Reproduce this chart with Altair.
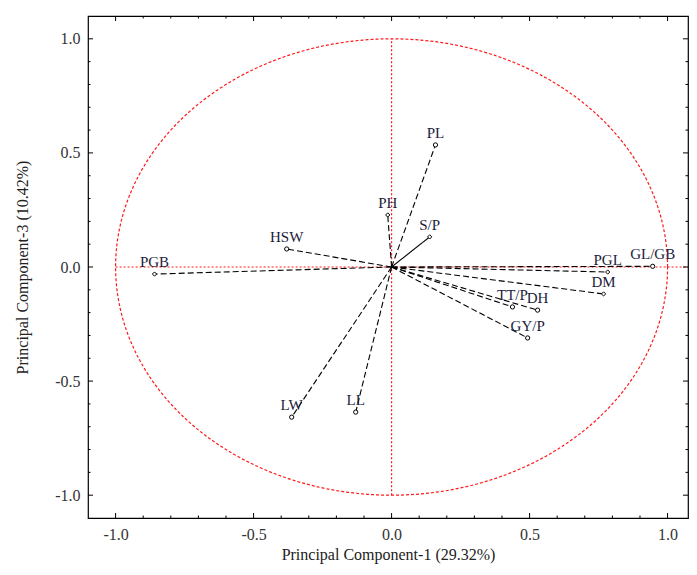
import altair as alt
import numpy as np
import pandas as pd

# ---- data ----
variables = ["PL", "PH", "S/P", "HSW", "PGB", "PGL", "GL/GB", "DM", "TT/P", "DH", "GY/P", "LW", "LL"]
pc1 = [0.159, -0.014, 0.138, -0.380, -0.859, 0.783, 0.946, 0.768, 0.438, 0.529, 0.493, -0.362, -0.130]
pc3 = [0.535, 0.228, 0.132, 0.079, -0.031, -0.022, 0.003, -0.118, -0.175, -0.189, -0.311, -0.658, -0.636]

major_ticks = [-1.0, -0.5, 0.0, 0.5, 1.0]
minor_ticks = [-0.9, -0.8, -0.7, -0.6, -0.4, -0.3, -0.2, -0.1, 0.1, 0.2, 0.3, 0.4, 0.6, 0.7, 0.8, 0.9]

x_title = "Principal Component-1 (29.32%)"
y_title = "Principal Component-3 (10.42%)"

# ---- style ----
W, H = 600, 502
FONT = "Liberation Serif"
RED = "#ff1a1a"
diamond_vars = ["PGB", "PH", "S/P", "PGL", "DM"]
solid_vars = ["S/P"]

df = pd.DataFrame({"var": variables, "x": pc1, "y": pc3})
df["x0"] = 0.0
df["y0"] = 0.0
df["shape"] = ["diamond" if v in diamond_vars else "circle" for v in variables]

xs = alt.Scale(domain=[-1.1, 1.074], nice=False, zero=False)
ys = alt.Scale(domain=[-1.1, 1.1], nice=False, zero=False)

label_expr = "replace(format(datum.value, '.1f'), '\u2212', '-')"

x_axis = alt.Axis(values=major_ticks, labelExpr=label_expr, title=x_title, grid=False,
                  domain=False, ticks=False, labelPadding=8, titlePadding=4,
                  labelFont=FONT, labelFontSize=16, labelColor="#333333",
                  titleFont=FONT, titleFontSize=16, titleFontWeight="normal", titleColor="#222222")
y_axis = alt.Axis(values=major_ticks, labelExpr=label_expr, title=y_title, grid=False,
                  domain=False, ticks=False, labelPadding=8, titlePadding=24,
                  labelFont=FONT, labelFontSize=16, labelColor="#333333",
                  titleFont=FONT, titleFontSize=16, titleFontWeight="normal", titleColor="#222222")

# unit circle (reference shape)
theta = np.linspace(0, 2 * np.pi, 361)
circle = pd.DataFrame({"x": np.cos(theta), "y": np.sin(theta), "o": np.arange(361)})

circle_layer = alt.Chart(circle).mark_line(color=RED, strokeWidth=1.2, strokeDash=[3, 2]).encode(
    x=alt.X("x:Q", scale=xs, axis=x_axis),
    y=alt.Y("y:Q", scale=ys, axis=y_axis),
    order="o:Q",
)

cross = pd.DataFrame({"x": [0.0, -1.0], "y": [-1.0, 0.0], "x2": [0.0, 1.074], "y2": [1.0, 0.0]})
cross_layer = alt.Chart(cross).mark_rule(color=RED, strokeWidth=1.2, strokeDash=[2, 2]).encode(
    x=alt.X("x:Q", scale=xs), y=alt.Y("y:Q", scale=ys), x2="x2:Q", y2="y2:Q"
)

vec_layer = alt.Chart(df).mark_rule(color="black", strokeWidth=1.1).encode(
    x=alt.X("x0:Q", scale=xs), y=alt.Y("y0:Q", scale=ys), x2="x:Q", y2="y:Q",
    strokeDash=alt.condition(alt.FieldOneOfPredicate(field="var", oneOf=solid_vars),
                             alt.value([1, 0]), alt.value([6, 3])),
)

pt_layer = alt.Chart(df).mark_point(filled=True, fill="white", stroke="black", strokeWidth=1, size=18, opacity=1).encode(
    x=alt.X("x:Q", scale=xs), y=alt.Y("y:Q", scale=ys),
    shape=alt.Shape("shape:N", scale=None, legend=None),
)

txt_layer = alt.Chart(df).mark_text(font=FONT, fontSize=15, color="#1c1c3c", dy=-12, align="center",
                                    baseline="middle").encode(
    x=alt.X("x:Q", scale=xs), y=alt.Y("y:Q", scale=ys), text="var:N"
)

# inward tick marks on all four sides
ticks = pd.DataFrame({"v": major_ticks + minor_ticks,
                      "major": [True] * len(major_ticks) + [False] * len(minor_ticks)})
MAJ, MIN = 5, 2.5
def tick_layers(major, length):
    d = alt.Chart(ticks).transform_filter(alt.datum.major == major)
    m = d.mark_rule(color="black", strokeWidth=1)
    return [
        m.encode(x=alt.X("v:Q", scale=xs), y=alt.value(H), y2=alt.value(H - length)),
        m.encode(x=alt.X("v:Q", scale=xs), y=alt.value(0), y2=alt.value(length)),
        m.encode(y=alt.Y("v:Q", scale=ys), x=alt.value(0), x2=alt.value(length)),
        m.encode(y=alt.Y("v:Q", scale=ys), x=alt.value(W), x2=alt.value(W - length)),
    ]

layers = [circle_layer, cross_layer, vec_layer, pt_layer, txt_layer] + tick_layers(True, MAJ) + tick_layers(False, MIN)

chart = alt.layer(*layers).properties(
    width=W, height=H,
    autosize=alt.AutoSizeParams(type="none"),
    padding={"left": 80, "top": 8, "right": 1, "bottom": 49},
    background="white",
).configure_view(stroke="black", strokeWidth=1.2)

chart.save("out.html", embed_options={"renderer": "svg", "actions": False})
